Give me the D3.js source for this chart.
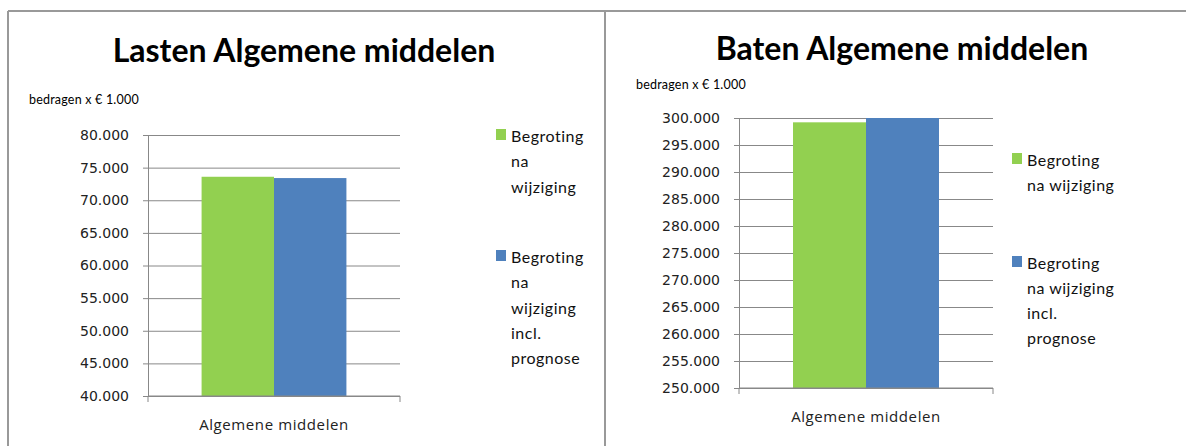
<!DOCTYPE html>
<html>
<head>
<meta charset="utf-8">
<script src="https://cdn.jsdelivr.net/npm/d3@7"></script>
<style>
body{margin:0;background:#fff;}
</style>
</head>
<body>
<svg id="drawing_region"></svg>
<script>
// data
const categories = ["Algemene middelen"];
const series_names = ["Begroting na wijziging", "Begroting na wijziging incl. prognose"];
const lasten_values = [73600, 73400];
const baten_values = [299200, 300000];
const lasten_ticks = [40000, 45000, 50000, 55000, 60000, 65000, 70000, 75000, 80000];
const baten_ticks = [250000, 255000, 260000, 265000, 270000, 275000, 280000, 285000, 290000, 295000, 300000];
const lasten_legend = [["Begroting", "na", "wijziging"], ["Begroting", "na", "wijziging", "incl.", "prognose"]];
const baten_legend = [["Begroting", "na wijziging"], ["Begroting", "na wijziging", "incl.", "prognose"]];

const svg = d3.select('#drawing_region')
    .attr('width', 1186)
    .attr('height', 446);

// panel borders
svg.append('line').attr('x1', 8).attr('y1', 11).attr('x2', 1186).attr('y2', 11)
   .attr('stroke', '#999').attr('stroke-width', 2);
svg.append('line').attr('x1', 8).attr('y1', 11).attr('x2', 8).attr('y2', 446)
   .attr('stroke', '#999').attr('stroke-width', 2);
svg.append('line').attr('x1', 605).attr('y1', 11).attr('x2', 605).attr('y2', 446)
   .attr('stroke', '#999').attr('stroke-width', 2);

const nl = d3.formatLocale({decimal: ",", thousands: ".", grouping: [3], currency: ["€", ""]});

class BarChart{
    constructor( config, data ){
        this.config = config;
        this.data = data;
        this.init();
    }

    init(){
        let self = this;
        const c = self.config;

        self.chart = svg.append('g');

        self.x0 = d3.scaleBand()
            .domain(categories)
            .range([c.left, c.right])
            .paddingInner(0)
            .paddingOuter(0.37);

        self.x1 = d3.scaleBand()
            .domain(series_names)
            .range([0, self.x0.bandwidth()]);

        self.yscale = d3.scaleLinear()
            .domain(d3.extent(c.ticks))
            .range([c.bottom, c.top]);

        self.color = d3.scaleOrdinal()
            .domain(series_names)
            .range(["#92D050", "#4F81BD"]);
    }

    render(){
        let self = this;
        const c = self.config;

        // title
        self.chart.append('text')
            .attr('x', c.titleX).attr('y', c.titleY)
            .attr('text-anchor', 'middle')
            .style('font-family', 'Lato')
            .style('font-weight', 'bold')
            .style('font-size', '32px')
            .text(c.title);

        self.chart.append('text')
            .attr('x', c.unitX).attr('y', c.unitY)
            .style('font-family', 'Lato')
            .style('font-size', '12.5px')
            .style('letter-spacing', '0.2px')
            .text("bedragen x € 1.000");

        // gridlines
        self.chart.append('g')
            .attr('transform', `translate(${c.left},0)`)
            .call(d3.axisLeft(self.yscale).tickValues(c.ticks).tickSize(-(c.right - c.left)).tickFormat(''))
            .call(g => g.select('.domain').remove())
            .call(g => g.selectAll('line').attr('stroke', '#888'));

        // y axis
        self.chart.append('g')
            .attr('transform', `translate(${c.left},0)`)
            .call(d3.axisLeft(self.yscale).tickValues(c.ticks).tickSize(5).tickPadding(14)
                  .tickFormat(nl.format(",d")))
            .call(g => g.select('.domain').attr('stroke', '#888'))
            .call(g => g.selectAll('line').attr('stroke', '#888'))
            .call(g => g.selectAll('text')
                  .style('font-family', 'DejaVu Sans')
                  .style('font-size', '14px')
                  .attr('fill', '#222'));

        // bars
        self.chart.append('g')
            .selectAll('rect')
            .data(self.data)
            .join('rect')
            .attr('x', d => self.x0(categories[0]) + self.x1(d.name))
            .attr('y', d => self.yscale(d.value))
            .attr('width', self.x1.bandwidth())
            .attr('height', d => c.bottom - self.yscale(d.value))
            .attr('fill', d => self.color(d.name));

        // x axis
        self.chart.append('line')
            .attr('x1', c.left).attr('x2', c.right)
            .attr('y1', c.bottom).attr('y2', c.bottom)
            .attr('stroke', '#888');
        self.chart.selectAll('.xtick')
            .data([c.left, c.right])
            .join('line')
            .attr('x1', d => d).attr('x2', d => d)
            .attr('y1', c.bottom).attr('y2', c.bottom + 6)
            .attr('stroke', '#888');
        self.chart.append('text')
            .attr('x', self.x0(categories[0]) + self.x0.bandwidth() / 2)
            .attr('y', c.bottom + 34)
            .attr('text-anchor', 'middle')
            .style('font-family', 'Open Sans')
            .style('font-size', '15px')
            .style('letter-spacing', '0.6px')
            .attr('fill', '#222')
            .text(categories[0]);

        // legend
        const legend = self.chart.append('g');
        series_names.forEach((s, i) => {
            legend.append('rect')
                .attr('x', c.legendX).attr('y', c.legendY[i])
                .attr('width', 10).attr('height', 11)
                .attr('fill', self.color(s));
            legend.append('text')
                .attr('x', c.legendX + 15).attr('y', c.legendY[i] + 13)
                .style('font-family', 'Lato')
                .style('font-size', '16px')
                .style('letter-spacing', '0.5px')
                .attr('fill', '#111')
                .selectAll('tspan')
                .data(c.legend[i])
                .join('tspan')
                .attr('x', c.legendX + 15)
                .attr('dy', (d, j) => j == 0 ? 0 : c.lineHeight)
                .text(d => d);
        });
    }
}

const lasten = new BarChart({
    title: "Lasten Algemene middelen",
    titleX: 304, titleY: 62,
    unitX: 29, unitY: 104,
    left: 148, right: 400, top: 135, bottom: 396,
    ticks: lasten_ticks,
    legend: lasten_legend,
    legendX: 496, legendY: [129, 250], lineHeight: 25.3
}, series_names.map((n, i) => ({name: n, value: lasten_values[i]})));
lasten.render();

const baten = new BarChart({
    title: "Baten Algemene middelen",
    titleX: 902, titleY: 60,
    unitX: 636, unitY: 89,
    left: 739, right: 993, top: 118, bottom: 388,
    ticks: baten_ticks,
    legend: baten_legend,
    legendX: 1012, legendY: [153, 256], lineHeight: 25
}, series_names.map((n, i) => ({name: n, value: baten_values[i]})));
baten.render();
</script>
</body>
</html>
